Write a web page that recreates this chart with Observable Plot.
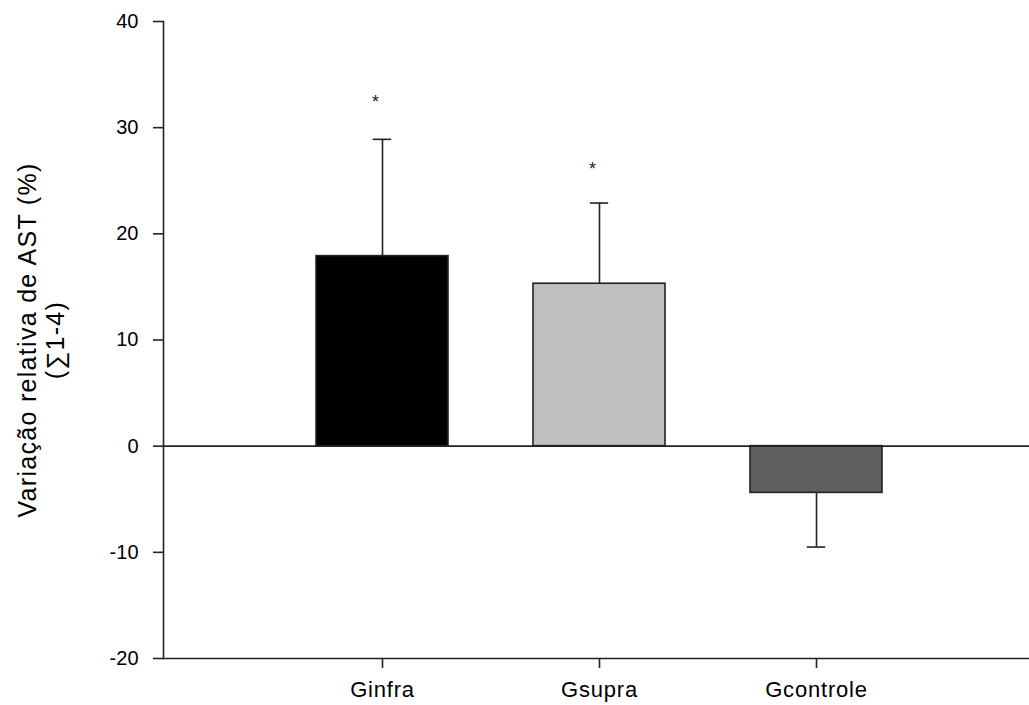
<!DOCTYPE html>
<html>
<head>
<meta charset="utf-8">
<script src="https://cdn.jsdelivr.net/npm/d3@7"></script>
<script src="https://cdn.jsdelivr.net/npm/@observablehq/plot@0.6"></script>
<style>
  html, body { margin: 0; padding: 0; background: #fff; }
  #chart svg g[aria-label="x-axis tick label"] text { letter-spacing: 0.8px; }
  #chart svg .ylabel text, #chart svg .ylabel tspan { letter-spacing: 1.3px; }
</style>
</head>
<body>
<div id="chart"></div>
<script>
const categories = ["Ginfra", "Gsupra", "Gcontrole"];
const means = [17.9, 15.3, -4.4];
const errorEnds = [28.9, 22.9, -9.5];
const barFills = ["#000000", "#c0c0c0", "#5f5f5f"];
const starCategories = ["Ginfra", "Gsupra"];
const starValues = [32.4, 26.1];
const yTicks = [-20, -10, 0, 10, 20, 30, 40];
const yLabel = "Variação relativa de AST (%)\n(∑1-4)";

const bars = categories.map((c, i) => ({cat: c, mean: means[i], err: errorEnds[i], fill: barFills[i]}));
const stars = starCategories.map((c, i) => ({cat: c, pos: starValues[i]}));

const axisColor = "#222";

const chart = Plot.plot({
  width: 1029,
  height: 705,
  marginLeft: 163,
  marginRight: 0,
  marginTop: 21,
  marginBottom: 47,
  style: {fontFamily: "'Liberation Sans', Arial, sans-serif", fontSize: "20px", color: "#000", background: "#fff"},
  x: {domain: categories, range: [163, 1036], paddingInner: 0.391, paddingOuter: 0.70, label: null},
  y: {domain: [-20, 40], label: null},
  marks: [
    Plot.ruleX(bars, {x: "cat", y1: "mean", y2: "err", stroke: axisColor, strokeWidth: 1.6}),
    Plot.tickY(bars, {x: "cat", y: "err", stroke: axisColor, strokeWidth: 1.6, insetLeft: 56.8, insetRight: 56.8}),
    Plot.barY(bars, {x: "cat", y1: 0, y2: "mean", fill: "fill", stroke: axisColor, strokeWidth: 1.6}),
    Plot.ruleY([0], {stroke: axisColor, strokeWidth: 1.6}),
    Plot.ruleY([-20], {stroke: axisColor, strokeWidth: 1.6}),
    Plot.frame({anchor: "left", stroke: axisColor, strokeWidth: 1.6}),
    Plot.axisY(yTicks, {tickSize: 10, tickPadding: 15, stroke: axisColor, strokeWidth: 1.6, label: null, tickFormat: d => String(d), fontSize: 20}),
    Plot.axisX({tickSize: 10, tickPadding: 13, stroke: axisColor, strokeWidth: 1.6, label: null, fontSize: 22}),
    Plot.text(stars, {x: "cat", y: "pos", text: () => "*", dx: -7, fontSize: 18, fill: "#222"}),
    Plot.text([yLabel], {text: d => d, frameAnchor: "left", textAnchor: "middle", rotate: -90, dx: -122, fontSize: 25, lineHeight: 1.12, fill: "#000", className: "ylabel"})
  ]
});
document.getElementById("chart").appendChild(chart);
</script>
</body>
</html>
